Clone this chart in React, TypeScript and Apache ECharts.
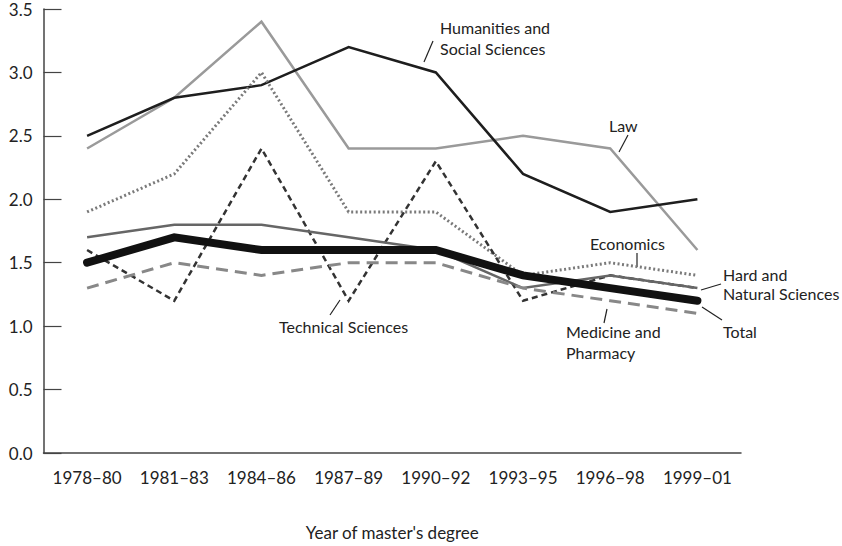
import React, { useEffect, useRef } from "react";
import * as echarts from "echarts";

const categories = ["1978–80", "1981–83", "1984–86", "1987–89", "1990–92", "1993–95", "1996–98", "1999–01"];
const humanities = [2.5, 2.8, 2.9, 3.2, 3.0, 2.2, 1.9, 2.0];
const law = [2.4, 2.8, 3.4, 2.4, 2.4, 2.5, 2.4, 1.6];
const economics = [1.9, 2.2, 3.0, 1.9, 1.9, 1.4, 1.5, 1.4];
const technical = [1.6, 1.2, 2.4, 1.2, 2.3, 1.2, 1.4, 1.3];
const hardNatural = [1.7, 1.8, 1.8, 1.7, 1.6, 1.3, 1.4, 1.3];
const medicine = [1.3, 1.5, 1.4, 1.5, 1.5, 1.3, 1.2, 1.1];
const total = [1.5, 1.7, 1.6, 1.6, 1.6, 1.4, 1.3, 1.2];
const yTicks = [0, 0.5, 1.0, 1.5, 2.0, 2.5, 3.0, 3.5];

const FONT = "Lato";
const TXT = "#222";

export default function App() {
  const ref = useRef<HTMLDivElement>(null);
  useEffect(() => {
    if (!ref.current) return;
    const chart = echarts.init(ref.current, undefined, { renderer: "svg" });
    const text = (x: number, y: number, t: string) => ({
      type: "text",
      x,
      y,
      style: { text: t, fill: TXT, font: `16px ${FONT}`, textVerticalAlign: "middle", lineHeight: 21 },
    });
    const line = (x1: number, y1: number, x2: number, y2: number) => ({
      type: "line",
      shape: { x1, y1, x2, y2 },
      style: { stroke: "#222", lineWidth: 1.2 },
    });
    const mk = (name: string, data: number[], color: string, width: number, type: any, z = 2) => ({
      name,
      type: "line",
      data,
      symbol: "none",
      z,
      lineStyle: { color, width, type, cap: width > 5 ? "round" : "butt", join: "miter" },
    });
    chart.setOption({
      animation: false,
      textStyle: { fontFamily: FONT },
      grid: { left: 43.5, right: 101, top: 9, bottom: 89 },
      xAxis: {
        type: "category",
        data: categories,
        boundaryGap: true,
        axisLine: { lineStyle: { color: "#444", width: 1.5 } },
        axisTick: { alignWithLabel: true, inside: true, length: 11, lineStyle: { color: "#444", width: 1.2 } },
        axisLabel: { color: TXT, fontSize: 17, margin: 16, fontFamily: FONT, interval: 0, hideOverlap: false },
        name: "Year of master's degree",
        nameLocation: "middle",
        nameGap: 71,
        nameTextStyle: { color: TXT, fontSize: 17, fontFamily: FONT },
      },
      yAxis: {
        type: "value",
        min: yTicks[0],
        max: yTicks[yTicks.length - 1],
        interval: 0.5,
        splitLine: { show: false },
        axisLine: { show: true, lineStyle: { color: "#444", width: 1.5 } },
        axisTick: { show: true, inside: true, length: 18, lineStyle: { color: "#444", width: 1.2 } },
        axisLabel: { color: TXT, fontSize: 17, margin: 11, fontFamily: FONT, formatter: (v: number) => v.toFixed(1) },
      },
      series: [
        mk("Law", law, "#9a9a9a", 2.5, "solid"),
        mk("Humanities and Social Sciences", humanities, "#1e1e1e", 2.5, "solid"),
        mk("Economics", economics, "#7a7a7a", 3, [2, 2.5]),
        mk("Technical Sciences", technical, "#333", 2.5, [6, 4]),
        mk("Hard and Natural Sciences", hardNatural, "#666", 2.5, "solid"),
        mk("Medicine and Pharmacy", medicine, "#888", 3, [12, 7]),
        mk("Total", total, "#111", 8, "solid", 5),
      ],
      graphic: [
        text(440, 27, "Humanities and"),
        text(440, 48, "Social Sciences"),
        line(424, 62, 433, 41),
        text(609, 125, "Law"),
        line(619, 152, 628, 135),
        text(590, 243, "Economics"),
        line(637, 253, 637, 267),
        text(723, 274, "Hard and"),
        text(723, 293, "Natural Sciences"),
        line(701, 290, 721, 284),
        text(723, 331, "Total"),
        line(702, 307, 722, 320),
        text(566, 331, "Medicine and"),
        text(566, 352, "Pharmacy"),
        line(607, 309, 604, 323),
        text(279, 326, "Technical Sciences"),
        line(330, 315, 340, 300),
      ],
    });
    return () => chart.dispose();
  }, []);
  return <div ref={ref} style={{ width: 842, height: 546, position: "absolute", left: 0, top: 0 }} />;
}
